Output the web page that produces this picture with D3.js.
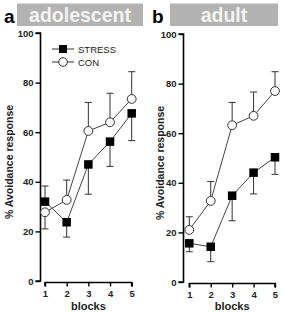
<!DOCTYPE html>
<html><head><meta charset="utf-8">
<script src="https://cdn.jsdelivr.net/npm/d3@7"></script>
<style>body{margin:0;background:#fff}svg{display:block}text{font-family:"Liberation Sans",Arial,sans-serif}</style>
</head><body>
<svg id="c" width="285" height="312"></svg>
<script>
const blocks = [1, 2, 3, 4, 5];
const yTicks = [0, 20, 40, 60, 80, 100];
const panelLetters = ["a", "b"];
const panelTitles = ["adolescent", "adult"];
const seriesNames = ["STRESS", "CON"];
// adolescent
const adolStress = [32, 23.7, 47, 56.2, 67.6];
const adolStressErr = [6.3, 6, 12, 10, 11];
const adolCon = [27.7, 32.7, 60.5, 64, 73.4];
const adolConErr = [6.7, 8, 11.5, 11.7, 11];
// adult
const adultStress = [15.6, 14.2, 34.8, 44.1, 50.3];
const adultStressErr = [3.4, 6, 10.1, 8.6, 6.9];
const adultCon = [21, 32.7, 63.2, 67, 77];
const adultConErr = [5.3, 7.8, 9.2, 9.6, 7.8];

const svg = d3.select("#c");
const panels = [
  {letter: panelLetters[0], title: panelTitles[0], stress: adolStress, stressErr: adolStressErr, con: adolCon, conErr: adolConErr,
   yAxisX: 40.5, x0: 45, x1: 131.7, yTop: 33, yBot: 281, boxX: 17, boxW: 126, letterX: 4, labelX: 9, legend: true},
  {letter: panelLetters[1], title: panelTitles[1], stress: adultStress, stressErr: adultStressErr, con: adultCon, conErr: adultConErr,
   yAxisX: 183.5, x0: 189.3, x1: 275, yTop: 34, yBot: 282, boxX: 170, boxW: 108, letterX: 152, labelX: 160, legend: false}
];

panels.forEach(p => {
  const g = svg.append("g");
  const x = d3.scaleLinear().domain([1, 5]).range([p.x0, p.x1]);
  const y = d3.scaleLinear().domain([0, 100]).range([p.yBot, p.yTop]);

  // title box
  g.append("rect").attr("x", p.boxX).attr("y", 3.5).attr("width", p.boxW).attr("height", 22.5).attr("fill", "#b3b3b3");
  g.append("text").attr("x", p.boxX + p.boxW / 2).attr("y", 21.5).attr("text-anchor", "middle")
    .attr("font-size", 19.5).attr("font-weight", "bold").attr("fill", "#f4f4f4").text(p.title);
  g.append("text").attr("x", p.letterX).attr("y", 23).attr("font-size", 19).attr("font-weight", "bold").attr("fill", "#000").text(p.letter);

  // y axis
  const ya = g.append("g").attr("transform", `translate(${p.yAxisX},0)`)
    .call(d3.axisLeft(y).tickValues(yTicks).tickSize(5).tickPadding(2));
  ya.select(".domain").attr("stroke", "#000").attr("stroke-width", 1.6).attr("d", `M-5,${y(100)}H0V${y(0)}H-5`);
  ya.selectAll(".tick line").attr("stroke", "#000").attr("stroke-width", 1.4);
  ya.selectAll(".tick text").attr("font-size", 9.5).attr("font-weight", "bold").attr("fill", "#222")
    .attr("font-family", "Liberation Sans, Arial, sans-serif");

  // x axis
  const xa = g.append("g").attr("transform", `translate(0,${p.yBot + 1.5})`)
    .call(d3.axisBottom(x).tickValues(blocks).tickFormat(d3.format("d")).tickSize(4).tickPadding(4));
  xa.select(".domain").attr("stroke", "#000").attr("stroke-width", 1.6).attr("d", `M${x(1)},4V0H${x(5)}V4`);
  xa.selectAll(".tick line").attr("stroke", "#000").attr("stroke-width", 1.4);
  xa.selectAll(".tick text").attr("font-size", 9.5).attr("font-weight", "bold").attr("fill", "#222")
    .attr("font-family", "Liberation Sans, Arial, sans-serif");

  // axis labels
  g.append("text").attr("x", (p.x0 + p.x1) / 2).attr("y", 310).attr("text-anchor", "middle")
    .attr("font-size", 11).attr("font-weight", "bold").attr("fill", "#222").text("blocks");
  g.append("text").attr("transform", `translate(${p.labelX + 4},${(p.yTop + p.yBot) / 2 + 5}) rotate(-90)`)
    .attr("text-anchor", "middle").attr("font-size", 10.5).attr("font-weight", "bold").attr("fill", "#222")
    .text("% Avoidance response");

  const line = d3.line().x((d, i) => x(blocks[i])).y(d => y(d));
  const capW = 3.5;

  // error bars point away from the other series
  const drawErr = (vals, errs, other) => vals.forEach((v, i) => {
    const dir = v >= other[i] ? 1 : -1;
    const cx = x(blocks[i]), end = y(v + dir * errs[i]);
    g.append("path").attr("d", `M${cx},${y(v)}V${end}M${cx - capW},${end}H${cx + capW}`)
      .attr("stroke", "#333").attr("stroke-width", 1).attr("fill", "none");
  });
  drawErr(p.con, p.conErr, p.stress);
  drawErr(p.stress, p.stressErr, p.con);

  g.append("path").datum(p.stress).attr("d", line).attr("fill", "none").attr("stroke", "#444").attr("stroke-width", 1);
  g.append("path").datum(p.con).attr("d", line).attr("fill", "none").attr("stroke", "#444").attr("stroke-width", 1);

  const sq = 8.5;
  g.selectAll(".sq").data(p.stress).enter().append("rect")
    .attr("x", (d, i) => x(blocks[i]) - sq / 2).attr("y", d => y(d) - sq / 2)
    .attr("width", sq).attr("height", sq).attr("fill", "#000");
  g.selectAll(".ci").data(p.con).enter().append("circle")
    .attr("cx", (d, i) => x(blocks[i])).attr("cy", d => y(d)).attr("r", 4.4)
    .attr("fill", "#fff").attr("stroke", "#333").attr("stroke-width", 1);

  if (p.legend) {
    const ly = [49, 62];
    seriesNames.forEach((n, k) => {
      g.append("line").attr("x1", 52).attr("x2", 74).attr("y1", ly[k]).attr("y2", ly[k]).attr("stroke", "#333").attr("stroke-width", 1);
      if (k === 0) g.append("rect").attr("x", 63 - 4).attr("y", ly[k] - 4).attr("width", 8).attr("height", 8).attr("fill", "#000");
      else g.append("circle").attr("cx", 63).attr("cy", ly[k]).attr("r", 4.3).attr("fill", "#fff").attr("stroke", "#333");
      g.append("text").attr("x", 78).attr("y", ly[k] + 3.5).attr("font-size", 9.5).attr("fill", "#222").text(n);
    });
  }
});
</script>
</body></html>
